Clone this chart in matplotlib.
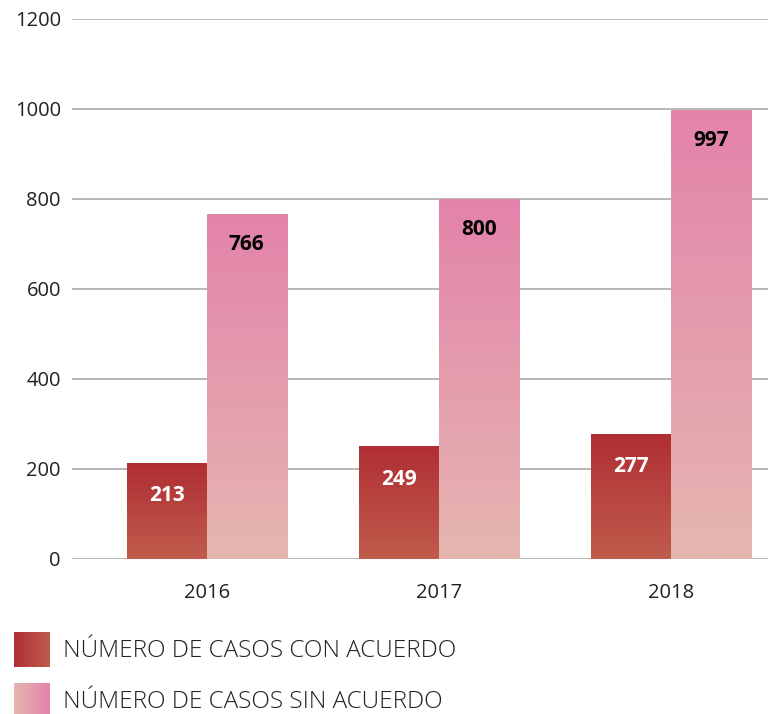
import matplotlib
matplotlib.use("Agg")
import matplotlib.pyplot as plt
import numpy as np
from matplotlib.colors import LinearSegmentedColormap

plt.rcParams['font.family'] = ['Open Sans', 'DejaVu Sans']

years = ['2016', '2017', '2018']
con_acuerdo = [213, 249, 277]
sin_acuerdo = [766, 800, 997]
labels = ['NÚMERO DE CASOS CON ACUERDO', 'NÚMERO DE CASOS SIN ACUERDO']

red_cmap = LinearSegmentedColormap.from_list('r', ['#C05C4C', '#B02E33'])
pink_cmap = LinearSegmentedColormap.from_list('p', ['#E6B6B1', '#E383AA'])

fig = plt.figure(figsize=(7.68, 7.14), dpi=100)
ax = fig.add_axes([72/768, 1 - 559/714, 696/768, 540/714])

w = 0.345
x = np.arange(len(years))

grad = np.linspace(0, 1, 256).reshape(-1, 1)

def gbar(left, h, cmap):
    b = ax.bar(left, h, width=w, align='edge', color='none', edgecolor='none', zorder=3)
    for r in b:
        x0, y0 = r.get_x(), r.get_y()
        ax.imshow(grad, extent=[x0, x0 + r.get_width(), y0, y0 + r.get_height()],
                  origin='lower', cmap=cmap, aspect='auto', zorder=3)
    return b

for i in range(len(years)):
    gbar(x[i] - w, con_acuerdo[i], red_cmap)
    gbar(x[i], sin_acuerdo[i], pink_cmap)
    ax.text(x[i] - w / 2, con_acuerdo[i] - 72, str(con_acuerdo[i]), ha='center', va='center',
            color='white', fontsize=15, fontweight='bold', zorder=5)
    ax.text(x[i] + w / 2, sin_acuerdo[i] - 68, str(sin_acuerdo[i]), ha='center', va='center',
            color='black', fontsize=15, fontweight='bold', zorder=5)

ax.set_xlim(-0.58, 2.418)
ax.set_ylim(0, 1200)
ax.set_yticks(range(0, 1201, 200))
ax.yaxis.grid(True, color='#ABABAB', linewidth=1.2, zorder=0)
ax.set_axisbelow(True)
for s in ax.spines.values():
    s.set_visible(False)
ax.tick_params(axis='y', length=0, pad=8, labelsize=14.5, labelcolor='#222222')
ax.set_xticks(x)
ax.set_xticklabels(years)
ax.tick_params(axis='x', length=0, pad=17, labelsize=14.5, labelcolor='#222222')

# legend
lg_grad = np.linspace(0, 1, 256).reshape(1, -1)
for j, (cmap, lab) in enumerate([(red_cmap.reversed(), labels[0]), (pink_cmap, labels[1])]):
    top = 632 + j * 51
    lax = fig.add_axes([14/768, 1 - (top + 35)/714, 36/768, 35/714])
    lax.imshow(lg_grad, cmap=cmap, aspect='auto')
    lax.axis('off')
    fig.text(63/768, 1 - (top + 19)/714, lab, ha='left', va='center', fontsize=17.5,
             color='#222222', fontweight='light')

fig.savefig('out.png', dpi=100)
